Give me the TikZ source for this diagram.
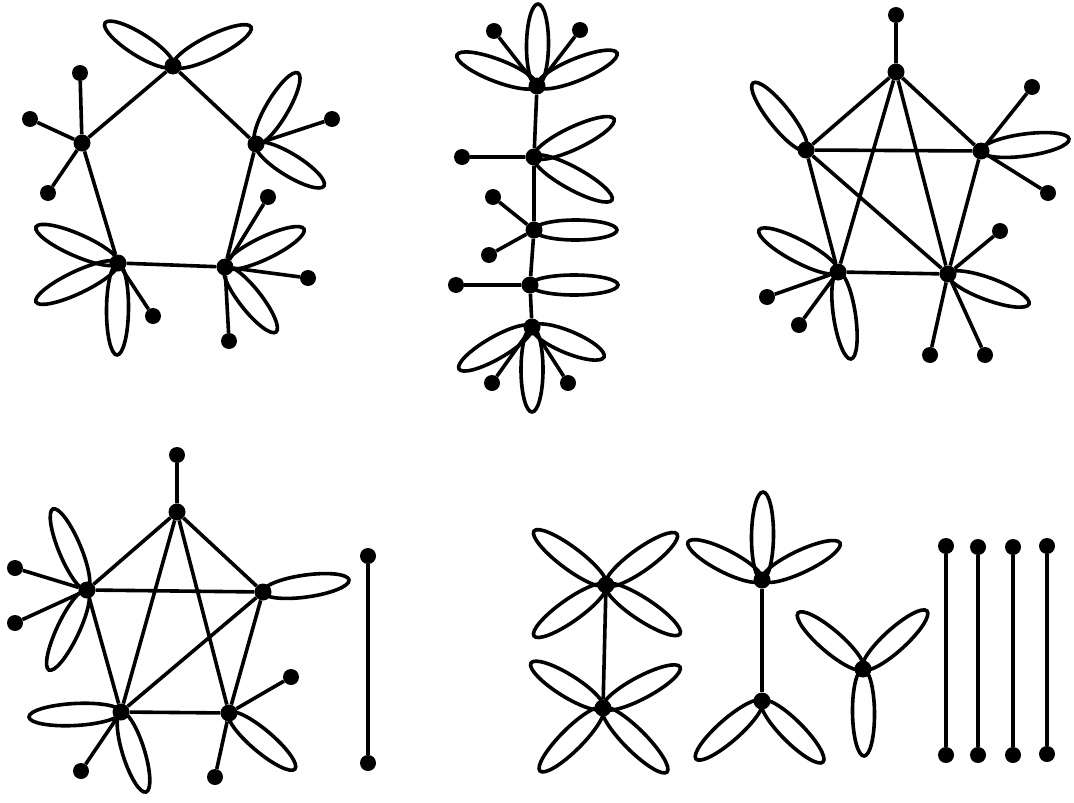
\documentclass[tikz,border=0pt]{standalone}
\usetikzlibrary{calc}
\tikzset{
  dot/.style={circle,fill=black,inner sep=0pt,minimum size=16pt},
  vdot/.style={circle,fill=black,inner sep=0pt,minimum size=17pt},
  edge/.style={line width=3.6pt},
}
\newcommand\lp[3][11]{\draw[edge] let \p1=(#2), \p2=(#3), \n1={atan2(\y2-\y1,\x2-\x1)}, \n2={veclen(\x2-\x1,\y2-\y1)/2} in ($(\p1)!0.5!(\p2)$) ellipse[x radius=\n2, y radius=#1pt, rotate=\n1];}
\begin{document}
\begin{tikzpicture}[x=1pt,y=-1pt]
\useasboundingbox (0,0) rectangle (1074,803);
% ---------- Graph 1 ----------
\node[vdot] (a) at (173,66) {};
\node[vdot] (b) at (82,143) {};
\node[vdot] (c) at (256,144) {};
\node[vdot] (d) at (118,263) {};
\node[vdot] (e) at (225,267) {};
\node[dot] (b1) at (80,73) {};
\node[dot] (b2) at (30,119) {};
\node[dot] (b3) at (48,193) {};
\node[dot] (c1) at (332,119) {};
\node[dot] (d1) at (153,316) {};
\node[dot] (e1) at (268,197) {};
\node[dot] (e2) at (308,278) {};
\node[dot] (e3) at (229,341) {};
\draw[edge] (a)--(b) (a)--(c) (b)--(d) (d)--(e) (c)--(e);
\draw[edge] (b)--(b1) (b)--(b2) (b)--(b3) (c)--(c1) (d)--(d1) (e)--(e1) (e)--(e2) (e)--(e3);
\lp{a}{105,23} \lp{a}{251,27}
\lp{c}{298,73} \lp{c}{324,186}
\lp{d}{36,227} \lp{d}{36,302} \lp{d}{117,355}
\lp{e}{304,229} \lp{e}{276,332}
% ---------- Graph 2 ----------
\node[vdot] (p1) at (537,86) {};
\node[vdot] (p2) at (534,157) {};
\node[vdot] (p3) at (534,230) {};
\node[vdot] (p4) at (530,285) {};
\node[vdot] (p5) at (532,327) {};
\node[dot] (q1) at (494,31) {};
\node[dot] (q2) at (580,30) {};
\node[dot] (q3) at (462,157) {};
\node[dot] (q4) at (493,197) {};
\node[dot] (q5) at (489,255) {};
\node[dot] (q6) at (456,285) {};
\node[dot] (q7) at (492,383) {};
\node[dot] (q8) at (568,383) {};
\draw[edge] (p1)--(p2)--(p3)--(p4)--(p5);
\draw[edge] (p1)--(q1) (p1)--(q2) (p2)--(q3) (p3)--(q4) (p3)--(q5) (p4)--(q6) (p5)--(q7) (p5)--(q8);
\lp{p1}{538,4} \lp{p1}{457,55} \lp{p1}{617,53}
\lp{p2}{614,119} \lp{p2}{612,200}
\lp[10]{p3}{617,230}
\lp[10]{p4}{618,285}
\lp{p5}{459,369} \lp{p5}{604,357} \lp{p5}{532,412}
% ---------- Graph 3 ----------
\node[vdot] (t) at (896,72) {};
\node[vdot] (l) at (806,150) {};
\node[vdot] (r) at (981,151) {};
\node[vdot] (s) at (838,272) {};
\node[vdot] (u) at (948,274) {};
\node[dot] (t1) at (896,15) {};
\node[dot] (r1) at (1032,87) {};
\node[dot] (r2) at (1048,193) {};
\node[dot] (u1) at (1000,231) {};
\node[dot] (u2) at (930,355) {};
\node[dot] (u3) at (985,355) {};
\node[dot] (s1) at (767,297) {};
\node[dot] (s2) at (799,325) {};
\draw[edge] (t)--(l) (t)--(r) (t)--(s) (t)--(u) (l)--(r) (l)--(s) (l)--(u) (s)--(u) (r)--(u);
\draw[edge] (t)--(t1) (r)--(r1) (r)--(r2) (u)--(u1) (u)--(u2) (u)--(u3) (s)--(s1) (s)--(s2);
\lp{l}{753,83}
\lp{r}{1069,139}
\lp{s}{759,230} \lp{s}{851,359}
\lp{u}{1029,304}
% ---------- Graph 4 ----------
\node[vdot] (T) at (177,512) {};
\node[vdot] (L) at (87,590) {};
\node[vdot] (R) at (263,592) {};
\node[vdot] (S) at (121,712) {};
\node[vdot] (U) at (229,713) {};
\node[dot] (T1) at (177,455) {};
\node[dot] (L1) at (15,568) {};
\node[dot] (L2) at (15,623) {};
\node[dot] (S1) at (81,771) {};
\node[dot] (U1) at (291,677) {};
\node[dot] (U2) at (215,777) {};
\node[dot] (K1) at (368,556) {};
\node[dot] (K2) at (368,763) {};
\draw[edge] (T)--(L) (T)--(R) (T)--(S) (T)--(U) (L)--(R) (L)--(S) (R)--(S) (R)--(U) (S)--(U);
\draw[edge] (T)--(T1) (L)--(L1) (L)--(L2) (S)--(S1) (U)--(U1) (U)--(U2) (K1)--(K2);
\lp{L}{53,509} \lp{L}{49,670}
\lp{R}{349,580}
\lp{S}{29,717} \lp{S}{146,792}
\lp{U}{295,769}
% ---------- Graph 5 ----------
\node[vdot] (x1) at (606,585) {};
\node[vdot] (x2) at (603,708) {};
\draw[edge] (x1)--(x2);
\lp{x1}{534,531} \lp{x1}{677,534} \lp{x1}{534,636} \lp{x1}{680,634}
\lp{x2}{531,663} \lp{x2}{680,667} \lp{x2}{540,771} \lp{x2}{667,772}
\node[vdot] (y1) at (762,580) {};
\node[vdot] (y2) at (762,701) {};
\draw[edge] (y1)--(y2);
\lp{y1}{763,492} \lp{y1}{688,542} \lp{y1}{840,543}
\lp{y2}{696,759} \lp{y2}{823,762}
\node[vdot] (z) at (863,669) {};
\lp{z}{798,613} \lp{z}{927,611} \lp{z}{864,756}
\node[dot] (m1) at (946,546) {};
\node[dot] (m2) at (946,755) {};
\node[dot] (n1) at (978,547) {};
\node[dot] (n2) at (978,755) {};
\node[dot] (o1) at (1013,547) {};
\node[dot] (o2) at (1013,755) {};
\node[dot] (w1) at (1047,546) {};
\node[dot] (w2) at (1047,754) {};
\draw[edge] (m1)--(m2) (n1)--(n2) (o1)--(o2) (w1)--(w2);
\end{tikzpicture}
\end{document}
